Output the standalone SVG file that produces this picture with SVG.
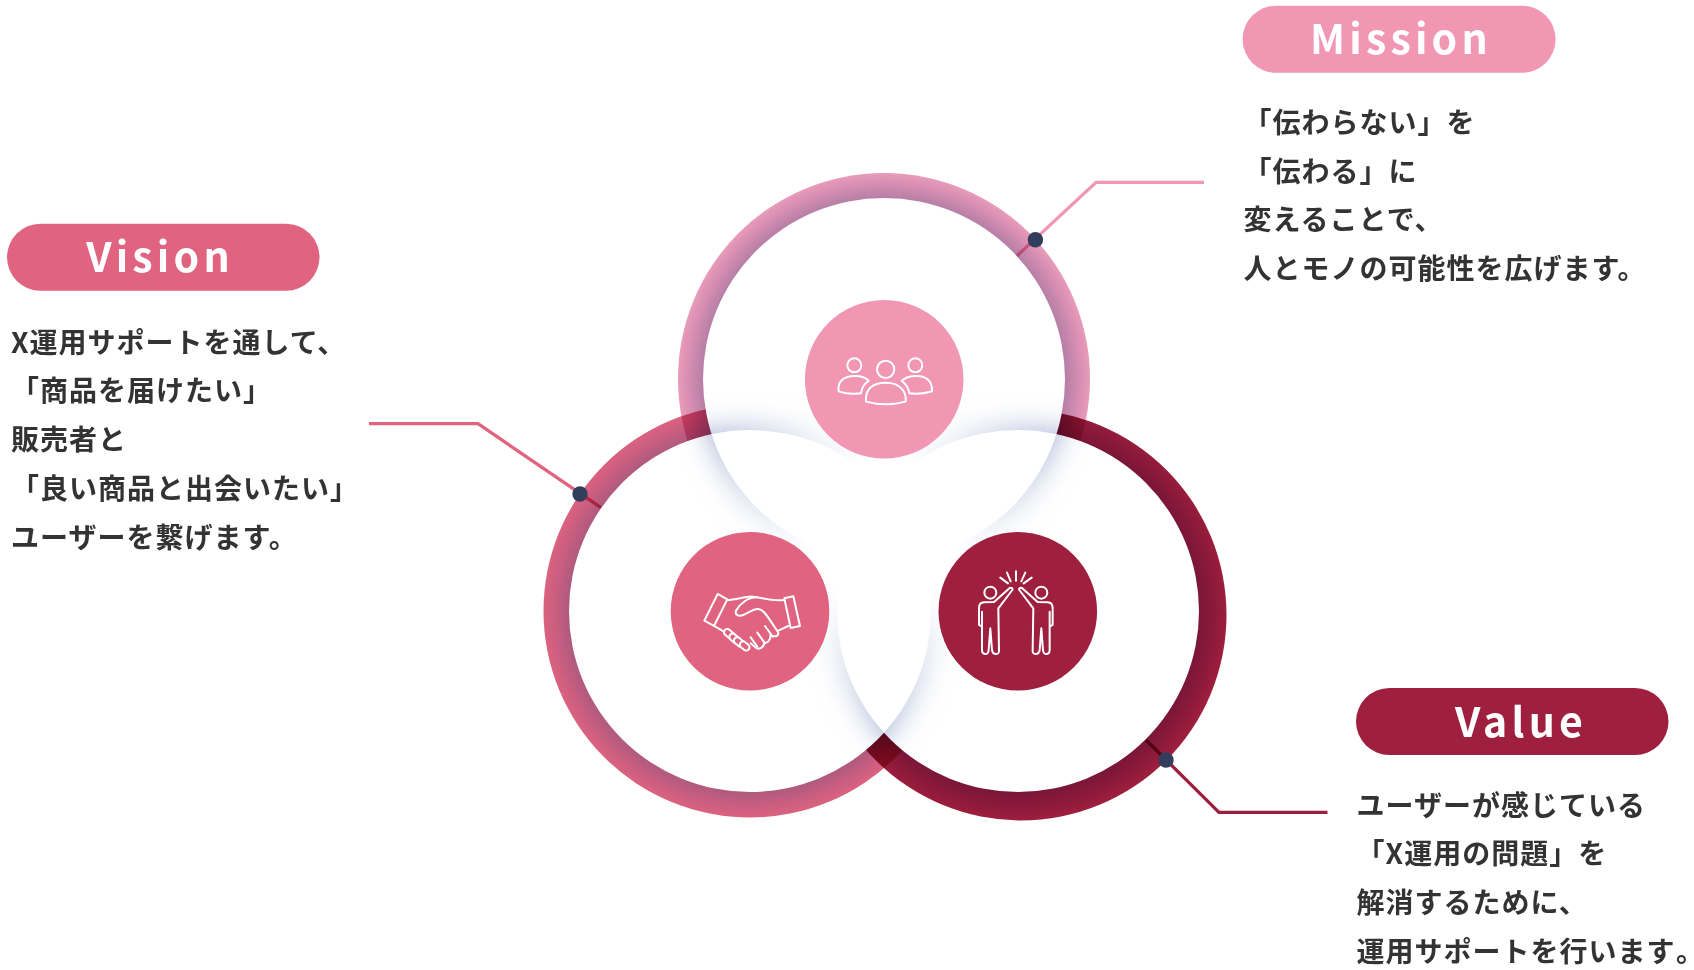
<svg xmlns="http://www.w3.org/2000/svg" width="1694" height="970" viewBox="0 0 1694 970">
<style>
.txt{font-family:"Noto Sans CJK JP","Noto Sans",sans-serif;font-weight:700;font-size:28px;letter-spacing:1px;fill:#333}
.ttl{font-family:"Noto Sans CJK JP","Noto Sans",sans-serif;font-weight:700;font-size:41px;letter-spacing:4.2px;fill:#fff;text-anchor:middle}
.end{font-feature-settings:"palt";letter-spacing:0}
.ring{mix-blend-mode:multiply}
.conn{fill:none;stroke-width:3.3;mix-blend-mode:multiply}
.dot{fill:#333d5c}
.ic{fill:none;stroke:#fff;stroke-width:6;stroke-linejoin:round;stroke-linecap:round}
.disc{fill:#fff}
.sh{fill:#93a4cc;filter:url(#blur)}
</style>
<defs>
<filter id="blur" x="-30%" y="-30%" width="160%" height="160%"><feGaussianBlur stdDeviation="15"/></filter>
<radialGradient id="gTop" gradientUnits="userSpaceOnUse" cx="884" cy="379" r="206"><stop offset=".875" stop-color="#b57ea6"/><stop offset=".95" stop-color="#d78eb2"/><stop offset="1" stop-color="#e99bb9"/></radialGradient>
<radialGradient id="gLeft" gradientUnits="userSpaceOnUse" cx="750" cy="611" r="206"><stop offset=".875" stop-color="#ad5a7e"/><stop offset=".95" stop-color="#cb5e80"/><stop offset="1" stop-color="#da627f"/></radialGradient>
<radialGradient id="gRight" gradientUnits="userSpaceOnUse" cx="1018" cy="611" r="209"><stop offset=".865" stop-color="#7a1638"/><stop offset=".95" stop-color="#8f1a3b"/><stop offset="1" stop-color="#9e1e3d"/></radialGradient>
<radialGradient id="fade" gradientUnits="userSpaceOnUse" cx="884" cy="534" r="205"><stop offset=".35" stop-color="#000"/><stop offset="1" stop-color="#fff"/></radialGradient>
<mask id="mFade" maskUnits="userSpaceOnUse" x="0" y="0" width="1694" height="970"><rect width="1694" height="970" fill="url(#fade)"/></mask>
<mask id="mT" maskUnits="userSpaceOnUse" x="0" y="0" width="1694" height="970"><circle cx="750" cy="611" r="181" fill="#fff"/><circle cx="1018" cy="611" r="181" fill="#fff"/><circle cx="884" cy="379" r="181" fill="#000"/></mask>
<mask id="mL" maskUnits="userSpaceOnUse" x="0" y="0" width="1694" height="970"><circle cx="884" cy="379" r="181" fill="#fff"/><circle cx="1018" cy="611" r="181" fill="#fff"/><circle cx="750" cy="611" r="181" fill="#000"/></mask>
<mask id="mR" maskUnits="userSpaceOnUse" x="0" y="0" width="1694" height="970"><circle cx="884" cy="379" r="181" fill="#fff"/><circle cx="750" cy="611" r="181" fill="#fff"/><circle cx="1018" cy="611" r="181" fill="#000"/></mask>
</defs>
<rect width="1694" height="970" fill="#fff"/>
<g id="rings">
<circle class="ring" cx="884" cy="379" r="206" fill="url(#gTop)"/>
<circle class="ring" cx="750" cy="611" r="206.5" fill="url(#gLeft)"/>
<circle class="ring" cx="1021" cy="615" r="205.5" fill="url(#gRight)"/>
</g>
<g id="connectors">
<path class="conn" stroke="#f196b3" d="M1204 182.3H1096L1016.8 256"/>
<path class="conn" stroke="#e0637f" d="M369 423.7H478L601 507.7"/>
<path class="conn" stroke="#9c1f3e" d="M1327.5 812.3H1219L1146 740"/>
</g>
<g id="discs">
<circle class="disc" cx="884" cy="379" r="181"/>
<circle class="disc" cx="750" cy="611" r="181"/>
<circle class="disc" cx="1018" cy="611" r="181"/>
<g mask="url(#mFade)">
<g mask="url(#mT)"><circle class="sh" cx="884" cy="379" r="181"/></g>
<g mask="url(#mL)"><circle class="sh" cx="750" cy="611" r="181"/></g>
<g mask="url(#mR)"><circle class="sh" cx="1018" cy="611" r="181"/></g>
</g>
</g>
<g id="dots">
<circle class="dot" cx="1035.4" cy="239.7" r="7.7"/>
<circle class="dot" cx="580" cy="494" r="7.7"/>
<circle class="dot" cx="1166" cy="760" r="7.7"/>
</g>
<g id="node-mission">
<circle cx="884.2" cy="379.3" r="79.3" fill="#f196b3"/>
<g class="ic" transform="translate(780 280) scale(.3333)">
<circle cx="317" cy="268" r="26"/><circle cx="223" cy="256" r="21"/><circle cx="406" cy="256" r="21"/>
<path d="M258 365C255 330 275 308 318 308C360 308 380 335 377 365C340 375 295 375 258 365Z"/>
<path d="M176 334C172 305 190 288 225 288C245 288 258 293 266 303C252 312 245 325 243 340C220 343 195 341 176 334Z"/>
<path d="M365 303C375 292 390 288 410 288C440 288 458 305 456 334C435 341 410 343 388 340C386 325 378 312 365 303Z"/>
</g>
<rect x="1242.6" y="5.7" width="313" height="67" rx="33.5" fill="#f196b3"/>
<text class="ttl" x="1401" y="54">Mission</text>
<text class="txt"><tspan x="1243.4" y="132.7">「伝わらない」を</tspan><tspan x="1243.4" y="181.5">「伝わる」に</tspan><tspan x="1243.4" y="230.2">変えることで、</tspan><tspan x="1243.4" y="278.8">人とモノの可能性を広げます。</tspan></text>
</g>
<g id="node-vision">
<circle cx="750" cy="611.3" r="79.3" fill="#e0637f"/>
<g class="ic" transform="translate(650 520) scale(.3333)">
<path d="M203 222L232 238L192 318L163 302Z"/><path d="M403 235L430 229L450 318L422 324Z"/>
<path d="M232 240C260 240 285 228 310 230C335 232 365 245 403 240"/>
<path d="M320 232C295 232 270 250 258 272C254 285 265 290 280 285C295 280 310 265 325 267C340 268 350 285 385 338C385 350 372 352 362 345"/>
<path d="M385 332L415 318M192 318L222 335M345 318L368 350M322 338L345 370M302 352L322 380"/>
<path d="M362 345C362 362 350 372 342 367C344 382 326 392 316 382L302 370"/>
<g fill="#e0637f">
<rect x="-18" y="-10" width="36" height="20" rx="10" transform="translate(238 342) rotate(40)"/>
<rect x="-18" y="-10" width="36" height="20" rx="10" transform="translate(254 356) rotate(40)"/>
<rect x="-18" y="-10" width="36" height="20" rx="10" transform="translate(268 367) rotate(40)"/>
<rect x="-16" y="-10" width="32" height="20" rx="10" transform="translate(284 378) rotate(40)"/>
</g>
</g>
<rect x="7" y="223.7" width="312.5" height="67" rx="33.5" fill="#e0637f"/>
<text class="ttl" x="160" y="272">Vision</text>
<text class="txt"><tspan x="11" y="352.7">X運用サポートを通して、</tspan><tspan x="11" y="401.4">「商品を届けたい」</tspan><tspan x="11" y="450.1">販売者と</tspan><tspan x="11" y="498.7">「良い商品と出会いたい」</tspan><tspan x="11" y="547.5">ユーザーを繋げます。</tspan></text>
</g>
<g id="node-value">
<circle cx="1017.8" cy="611.3" r="79.3" fill="#9e1f3e"/>
<g class="ic" transform="translate(920 520) scale(.3333)">
<path d="M288 154V182M261 158L272 184M241 173L264 190M316 158L304 184M335 173L311 190"/>
<g><circle cx="211" cy="218" r="18"/><path d="M270 203L222 246L192 247Q177 248 177 264L177 315L186 320L186 390Q186 402 197 402Q205 402 206 390L211 325L216 390Q218 402 228 402Q238 402 237 390L235 265L277 210Q280 203 270 203ZM186 320V275"/></g>
<g transform="matrix(-1 0 0 1 575 0)"><circle cx="211" cy="218" r="18"/><path d="M270 203L222 246L192 247Q177 248 177 264L177 315L186 320L186 390Q186 402 197 402Q205 402 206 390L211 325L216 390Q218 402 228 402Q238 402 237 390L235 265L277 210Q280 203 270 203ZM186 320V275"/></g>
</g>
<rect x="1356" y="688" width="312.5" height="67" rx="33.5" fill="#9e1f3e"/>
<text class="ttl" x="1521" y="737">Value</text>
<text class="txt"><tspan x="1356.6" y="815.7">ユーザーが感じている</tspan><tspan x="1356.6" y="864.4">「X運用の問題」を</tspan><tspan x="1356.6" y="913.1">解消するために、</tspan><tspan x="1356.6" y="961.7">運用サポートを行います<tspan class="end">。</tspan></tspan></text>
</g>
</svg>
